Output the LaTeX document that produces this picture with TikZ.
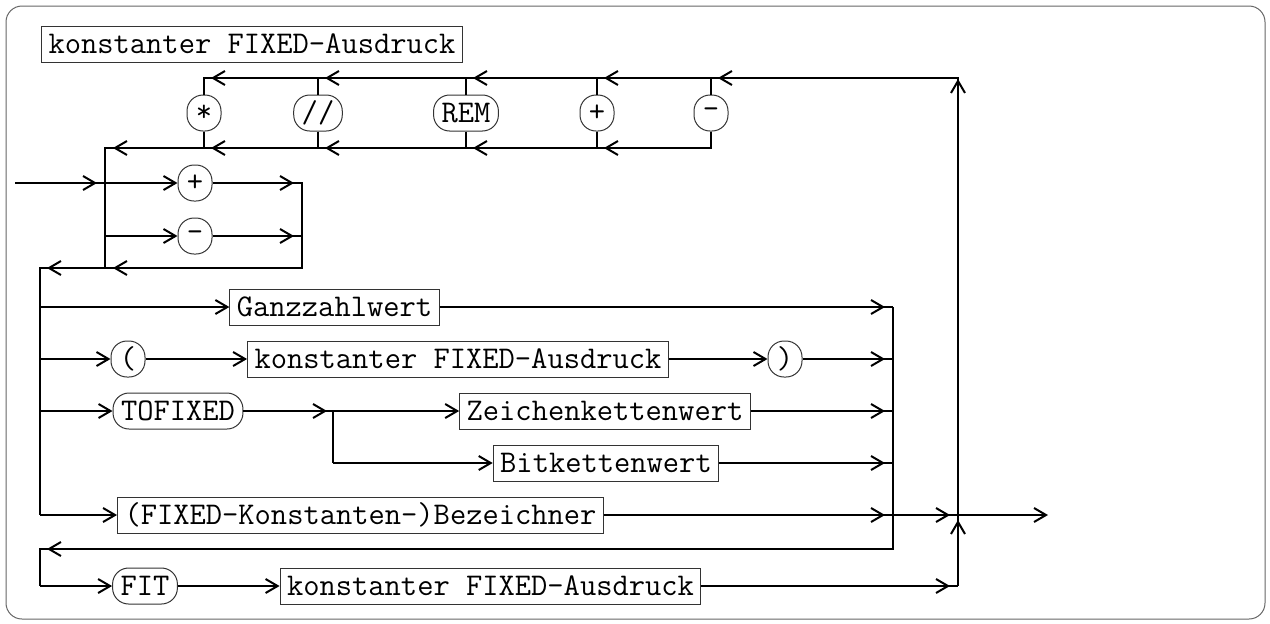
\documentclass[tikz,border=0pt]{standalone}
\usepackage{fontspec}
\usetikzlibrary{arrows.meta,calc}
\newcommand\arL[1]{\draw[arr] ($(#1)+(22,0)$) -- ($(#1)+(7,0)$);}
\newcommand\arR[1]{\draw[arr] ($(#1)+(-23,0)$) -- ($(#1)+(-8,0)$);}
\newcommand\arU[2]{\draw[arr] ($(#1)+(0,#2+15)$) -- ($(#1)+(0,#2)$);}
\begin{document}
\begin{tikzpicture}[x=0.5pt,y=-0.5pt,
  ln/.style={line width=1pt},
  arr/.style={line width=1pt,-{Straight Barb[length=6pt,width=7pt]}},
  lab/.style={font=\fontsize{15.8pt}{18pt}\selectfont\ttfamily, inner ysep=0pt, minimum height=18pt, line width=0.5pt, draw=black!80},
  nterm/.style={lab, rectangle, inner xsep=3.5pt},
  term/.style={lab, rounded corners=8pt, inner xsep=4pt, minimum width=17pt},
]
\useasboundingbox (0,0) rectangle (1270,623);
\draw[black!60, line width=0.5pt, rounded corners=8pt] (6,6) rectangle (1265,619);

% title
\node[nterm] (title) at (252,44) {konstanter FIXED-Ausdruck};

% operator loop
\node[term] (o1) at (204,113) {*};
\node[term] (o2) at (318,113) {//};
\node[term] (o3) at (466,113) {REM};
\node[term] (o4) at (597,113) {+};
\node[term] (o5) at (711,113) {-};
\coordinate (TR) at (958,78);
\coordinate (tA) at (204,78); \coordinate (tB) at (318,78); \coordinate (tC) at (466,78);
\coordinate (tD) at (597,78); \coordinate (tE) at (711,78);
\coordinate (bL) at (105,148); \coordinate (bA) at (204,148); \coordinate (bB) at (318,148);
\coordinate (bC) at (466,148); \coordinate (bD) at (597,148); \coordinate (bE) at (711,148);

% sign section coordinates
\coordinate (in) at (15,183); \coordinate (sJ) at (105,183); \coordinate (sM) at (105,236);
\coordinate (sR1) at (302,183); \coordinate (sR2) at (302,236); \coordinate (sR3) at (302,268);
\coordinate (sL) at (105,268); \coordinate (mL) at (40,268);
\node[term] (plus) at (195,183) {+};
\node[term] (minus) at (195,236) {-};

% main
\coordinate (m1) at (40,307); \coordinate (m2) at (40,359); \coordinate (m3) at (40,411);
\coordinate (m5) at (40,515); \coordinate (mB) at (40,549); \coordinate (mF) at (40,586);
\coordinate (r1) at (893,307); \coordinate (r2) at (893,359); \coordinate (r3) at (893,411);
\coordinate (r4) at (893,463); \coordinate (r5) at (893,515); \coordinate (rB) at (893,549);
\coordinate (J5) at (958,515); \coordinate (JF) at (958,586); \coordinate (out) at (1048,515);
\coordinate (tj) at (333,411); \coordinate (tj4) at (333,463);

\node[nterm] (g) at (334.5,307) {Ganzzahlwert};
\node[term] (lp) at (128,359) {(};
\node[nterm] (k2) at (458,359) {konstanter FIXED-Ausdruck};
\node[term] (rp) at (785,359) {)};
\node[term] (tof) at (178,411) {TOFIXED};
\node[nterm] (zk) at (605,411) {Zeichenkettenwert};
\node[nterm] (bk) at (606,463) {Bitkettenwert};
\node[nterm] (bz) at (360.5,515) {(FIXED-Konstanten-)Bezeichner};
\node[term] (fit) at (145,586) {FIT};
\node[nterm] (k3) at (490.5,586) {konstanter FIXED-Ausdruck};

% operator loop lines
\draw[ln] (JF) -- (TR) -- (tA) -- (o1.north);
\draw[ln] (o1.south) -- (bA);
\draw[ln] (tB) -- (o2.north); \draw[ln] (o2.south) -- (bB);
\draw[ln] (tC) -- (o3.north); \draw[ln] (o3.south) -- (bC);
\draw[ln] (tD) -- (o4.north); \draw[ln] (o4.south) -- (bD);
\draw[ln] (tE) -- (o5.north); \draw[ln] (o5.south) -- (bE) -- (bL) -- (sL);
\arL{tA} \arL{tB} \arL{tC} \arL{tD} \arL{tE}
\arL{bA} \arL{bB} \arL{bC} \arL{bD}
\draw[arr] ($(bL)+(23,0)$) -- ($(bL)+(8,0)$);
\arU{TR}{1}
\arU{J5}{5}

% sign section lines
\draw[ln] (in) -- (sJ); \arR{sJ}
\draw[arr] (sJ) -- (plus.west);
\draw[ln] (plus.east) -- (sR1) -- (sR3) -- (mL) -- (m5); \arR{sR1}
\draw[arr] (sM) -- (minus.west);
\draw[ln] (minus.east) -- (sR2); \arR{sR2}
\draw[arr] ($(sL)+(23,0)$) -- ($(sL)+(8,0)$);
\arL{mL}

% rows
\draw[arr] (m1) -- (g.west); \draw[ln] (g.east) -- (r1); \arR{r1}
\draw[arr] (m2) -- (lp.west); \draw[arr] (lp.east) -- (k2.west);
\draw[arr] (k2.east) -- (rp.west); \draw[ln] (rp.east) -- (r2); \arR{r2}
\draw[arr] (m3) -- (tof.west); \draw[ln] (tof.east) -- (tj);
\draw[arr] ($(tj)+(-21,0)$) -- ($(tj)+(-6,0)$);
\draw[arr] (tj) -- (zk.west); \draw[ln] (zk.east) -- (r3); \arR{r3}
\draw[ln] (tj) -- (tj4); \draw[arr] (tj4) -- (bk.west);
\draw[ln] (bk.east) -- (r4); \arR{r4}
\draw[arr] (m5) -- (bz.west); \draw[ln] (bz.east) -- (J5); \arR{r5} \arR{J5}
\draw[arr] (J5) -- (out);
\draw[ln] (r1) -- (rB) -- (mB) -- (mF); \arL{mB}
\draw[arr] (mF) -- (fit.west); \draw[arr] (fit.east) -- (k3.west);
\draw[ln] (k3.east) -- (JF); \arR{JF}
\end{tikzpicture}
\end{document}
